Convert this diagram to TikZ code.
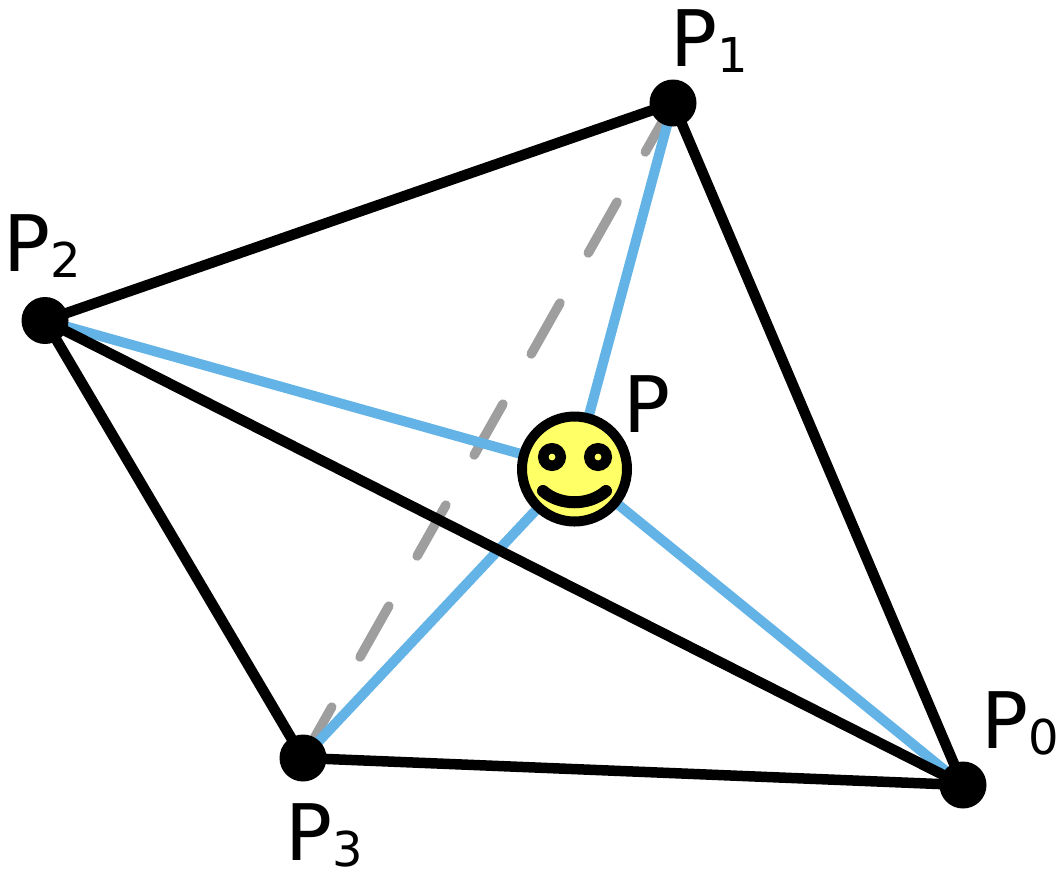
\documentclass[tikz,border=0pt]{standalone}
\usepackage{fontspec}
\setmainfont{DejaVu Sans}
\usetikzlibrary{backgrounds}
\definecolor{skyline}{HTML}{63B3E6}
\definecolor{dashgray}{HTML}{9E9E9E}
\definecolor{smileyellow}{HTML}{FFFF66}
\newcommand{\lbl}[2]{{\fontsize{78}{80}\selectfont #1}\ifx&#2&\else{\raisebox{-6.5pt}{\fontsize{48}{50}\selectfont #2}}\fi}
\tikzset{
  vertex/.style={circle,fill=black,draw=none,inner sep=0pt,minimum size=47pt},
  edgeline/.style={draw=black,line width=10.5pt},
  spoke/.style={draw=skyline,line width=10pt},
  hidden/.style={draw=dashgray,line width=9.5pt,line cap=round,dash pattern=on 58.5pt off 57.5pt},
  face/.style={circle,fill=smileyellow,draw=black,line width=10pt,inner sep=0pt,minimum size=105pt},
  eye/.style={circle,fill=smileyellow,draw=black,line width=10.5pt,inner sep=0pt,minimum size=17.5pt},
  label/.style={anchor=base west,inner sep=0pt,outer sep=0pt}
}
\begin{document}
\begin{tikzpicture}[x=1pt,y=-1pt]
\useasboundingbox (0,0) rectangle (1064,878);
\node[vertex] (p0) at (963,785) {};
\node[vertex] (p1) at (673,103) {};
\node[vertex] (p2) at (45,320.5) {};
\node[vertex] (p3) at (303,758) {};
\node[face] (p) at (574.5,469) {};
\node[eye] (el) at (552,457) {};
\node[eye] (er) at (598,457) {};
\coordinate (sl) at (543,491);
\coordinate (sr) at (606,491);
\draw[black,line width=12pt,line cap=round] (sl) .. controls (560,506) and (589,506) .. (sr);
\begin{scope}[on background layer]
\draw[hidden] (p3.center) -- (p1.center);
\draw[spoke] (p.center) -- (p0.center);
\draw[spoke] (p.center) -- (p1.center);
\draw[spoke] (p.center) -- (p2.center);
\draw[spoke] (p.center) -- (p3.center);
\draw[edgeline] (p0.center) -- (p1.center);
\draw[edgeline] (p1.center) -- (p2.center);
\draw[edgeline] (p2.center) -- (p3.center);
\draw[edgeline] (p3.center) -- (p0.center);
\draw[edgeline] (p2.center) -- (p0.center);
\end{scope}
\node[label] (l0) at (981,748) {\lbl{P}{0}};
\node[label] (l1) at (670.5,66) {\lbl{P}{1}};
\node[label] (l2) at (3.5,271) {\lbl{P}{2}};
\node[label] (l3) at (285,860) {\lbl{P}{3}};
\node[label] (lp) at (623,432) {\lbl{P}{}};
\end{tikzpicture}
\end{document}
